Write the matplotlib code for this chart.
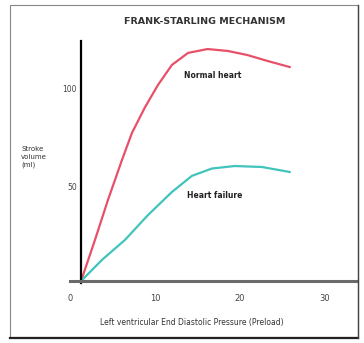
import matplotlib.pyplot as plt
from matplotlib.patches import Rectangle
from matplotlib.lines import Line2D

# values
normal_x = [1.3, 2.94, 4.47, 6.12, 7.29, 8.82, 10.35, 12.0, 13.9, 16.2, 18.6, 20.9, 23.3, 25.9]
normal_y = [1, 22.2, 42.8, 63.4, 77.3, 90.5, 102, 112.4, 118.6, 120.6, 119.6, 117.5, 114.4, 111.3]
failure_x = [1.3, 3.76, 6.47, 9.18, 12.0, 14.35, 16.7, 19.4, 22.6, 25.9]
failure_y = [1, 11.9, 22.2, 35, 46.9, 55.2, 59.0, 60.3, 59.8, 57.2]
xticks = [0, 10, 20, 30]
yticks = [50, 100]

W, H = 364, 343
fig = plt.figure(figsize=(W / 100, H / 100), dpi=100)
fig.patch.set_facecolor('white')

# axes placed so data x=0 sits at px 70, y=0 at px 283
ax = fig.add_axes([70 / W, (H - 283) / H, 287 / W, 242.5 / H])
ax.set_xlim(0, 33.8)
ax.set_ylim(0, 125)

ax.plot(normal_x, normal_y, color='#e8506a', lw=1.6, solid_capstyle='round', solid_joinstyle='round')
ax.plot(failure_x, failure_y, color='#40c4bc', lw=1.6, solid_capstyle='round', solid_joinstyle='round')

ax.text(16.8, 107, 'Normal heart', fontsize=5.5, fontweight='bold', ha='center', va='center', color='#222222')
ax.text(17.0, 45, 'Heart failure', fontsize=5.5, fontweight='bold', ha='center', va='center', color='#222222')

for s in ['top', 'right']:
    ax.spines[s].set_visible(False)
ax.spines['left'].set_position(('data', 1.3))
ax.spines['bottom'].set_position(('data', 1))
ax.spines['left'].set_linewidth(1.6)
ax.spines['left'].set_color('black')
ax.spines['bottom'].set_linewidth(2.2)
ax.spines['bottom'].set_color('#6a6a6a')

ax.set_xticks(xticks)
ax.set_yticks(yticks)
ax.tick_params(axis='x', length=0, pad=9, labelsize=6, labelcolor='#444444')
ax.tick_params(axis='y', length=0, pad=3, labelsize=5.5, labelcolor='#444444')

fig.text(205 / W, 1 - 22 / H, 'FRANK-STARLING MECHANISM', fontsize=6.8, fontweight='bold',
         ha='center', va='center', color='#333333')
fig.text(21 / W, 1 - 157 / H, 'Stroke\nvolume\n(ml)', fontsize=5, ha='left', va='center',
         color='#333333', linespacing=1.4)
fig.text(192 / W, 1 - 323 / H, 'Left ventricular End Diastolic Pressure (Preload)', fontsize=5.5,
         ha='center', va='center', color='#333333')

# frame around the picture
fig.patches.append(Rectangle((10 / W, 1 - 337 / H), 348 / W, 332 / H, transform=fig.transFigure,
                             fill=False, edgecolor='#888888', lw=0.8))
fig.lines.append(Line2D([10 / W, 358 / W], [1 - 338 / H, 1 - 338 / H], transform=fig.transFigure,
                        color='#222222', lw=1.6))
fig.lines.append(Line2D([358 / W, 358 / W], [1 - 338 / H, 1 - 5 / H], transform=fig.transFigure,
                        color='#444444', lw=1.0))

fig.savefig('out.png', dpi=100)
